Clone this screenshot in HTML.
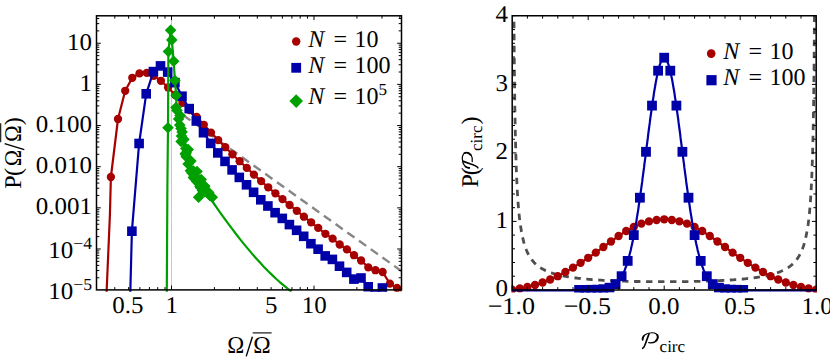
<!DOCTYPE html>
<html><head><meta charset="utf-8"><title>chart</title>
<style>html,body{margin:0;padding:0;background:#fff;}body{width:830px;height:362px;overflow:hidden;font-family:"Liberation Serif",serif;}svg{display:block;}</style>
</head><body>
<svg width="830" height="362" viewBox="0 0 830 362">
<rect width="830" height="362" fill="#fff"/>
<defs><clipPath id="cl"><rect x="96.5" y="15.8" width="305.0" height="275.99999999999994"/></clipPath><clipPath id="cr"><rect x="511.40000000000003" y="15.0" width="305.6" height="277.4"/></clipPath></defs>
<g clip-path="url(#cl)">
<line x1="171.5" y1="15.8" x2="171.5" y2="289.9" stroke="#c8c8c8" stroke-width="1"/>
<line x1="171.5" y1="106.9" x2="401.5" y2="271.1" stroke="#868686" stroke-width="2.4" stroke-dasharray="8.8 5.6"/>
<polyline points="106.6,292.0 108.4,250.0 109.9,215.0 110.9,177.0 118.0,119.0 125.2,90.8 132.3,77.8 139.5,73.4 146.7,72.9 153.8,75.9 160.9,80.8 168.1,87.5 175.2,95.0 182.4,102.8 189.6,110.0 196.7,117.0 203.8,124.8 211.0,132.6 218.2,140.1 225.3,147.2 232.4,154.3 239.6,161.2 246.8,167.9 253.9,174.6 261.1,181.1 268.2,187.3 275.4,193.3 282.5,199.1 289.6,205.0 296.8,210.8 303.9,216.7 311.1,222.3 318.2,227.9 325.4,233.8 332.6,238.6 339.7,244.5 346.9,249.4 354.0,255.2 361.1,260.5 368.3,267.4 375.4,270.2 382.6,272.0 389.9,283.6 397.0,288.0 402.0,291.0" fill="none" stroke="#a60000" stroke-width="2.2" stroke-linejoin="round"/>
<circle cx="110.9" cy="177.0" r="4.15" fill="#a60000"/>
<circle cx="118.0" cy="119.0" r="4.15" fill="#a60000"/>
<circle cx="125.2" cy="90.8" r="4.15" fill="#a60000"/>
<circle cx="132.3" cy="77.8" r="4.15" fill="#a60000"/>
<circle cx="139.5" cy="73.4" r="4.15" fill="#a60000"/>
<circle cx="146.7" cy="72.9" r="4.15" fill="#a60000"/>
<circle cx="153.8" cy="75.9" r="4.15" fill="#a60000"/>
<circle cx="160.9" cy="80.8" r="4.15" fill="#a60000"/>
<circle cx="168.1" cy="87.5" r="4.15" fill="#a60000"/>
<circle cx="175.2" cy="95.0" r="4.15" fill="#a60000"/>
<circle cx="182.4" cy="102.8" r="4.15" fill="#a60000"/>
<circle cx="189.6" cy="110.0" r="4.15" fill="#a60000"/>
<circle cx="196.7" cy="117.0" r="4.15" fill="#a60000"/>
<circle cx="203.8" cy="124.8" r="4.15" fill="#a60000"/>
<circle cx="211.0" cy="132.6" r="4.15" fill="#a60000"/>
<circle cx="218.2" cy="140.1" r="4.15" fill="#a60000"/>
<circle cx="225.3" cy="147.2" r="4.15" fill="#a60000"/>
<circle cx="232.4" cy="154.3" r="4.15" fill="#a60000"/>
<circle cx="239.6" cy="161.2" r="4.15" fill="#a60000"/>
<circle cx="246.8" cy="167.9" r="4.15" fill="#a60000"/>
<circle cx="253.9" cy="174.6" r="4.15" fill="#a60000"/>
<circle cx="261.1" cy="181.1" r="4.15" fill="#a60000"/>
<circle cx="268.2" cy="187.3" r="4.15" fill="#a60000"/>
<circle cx="275.4" cy="193.3" r="4.15" fill="#a60000"/>
<circle cx="282.5" cy="199.1" r="4.15" fill="#a60000"/>
<circle cx="289.6" cy="205.0" r="4.15" fill="#a60000"/>
<circle cx="296.8" cy="210.8" r="4.15" fill="#a60000"/>
<circle cx="303.9" cy="216.7" r="4.15" fill="#a60000"/>
<circle cx="311.1" cy="222.3" r="4.15" fill="#a60000"/>
<circle cx="318.2" cy="227.9" r="4.15" fill="#a60000"/>
<circle cx="325.4" cy="233.8" r="4.15" fill="#a60000"/>
<circle cx="332.6" cy="238.6" r="4.15" fill="#a60000"/>
<circle cx="339.7" cy="244.5" r="4.15" fill="#a60000"/>
<circle cx="346.9" cy="249.4" r="4.15" fill="#a60000"/>
<circle cx="354.0" cy="255.2" r="4.15" fill="#a60000"/>
<circle cx="361.1" cy="260.5" r="4.15" fill="#a60000"/>
<circle cx="368.3" cy="267.4" r="4.15" fill="#a60000"/>
<circle cx="375.4" cy="270.2" r="4.15" fill="#a60000"/>
<circle cx="382.6" cy="272.0" r="4.15" fill="#a60000"/>
<circle cx="389.9" cy="283.6" r="4.15" fill="#a60000"/>
<circle cx="397.0" cy="288.0" r="4.15" fill="#a60000"/>
<polyline points="130.3,292.0 131.9,231.2 139.1,143.5 146.2,93.8 153.4,71.6 160.5,65.9 167.7,72.1 174.9,82.6 182.0,96.2 189.2,108.6 196.3,121.0 203.5,132.7 210.7,143.4 217.8,152.9 225.0,161.4 232.1,169.9 239.3,177.4 246.5,184.8 253.6,192.3 260.8,199.8 267.9,206.0 275.1,212.7 282.3,218.4 289.4,224.6 296.6,230.3 303.7,236.3 310.9,243.7 318.1,249.2 325.2,255.9 332.4,259.4 339.5,266.2 346.7,272.4 353.9,279.1 361.0,278.0 368.2,286.8 371.5,291.0 378.8,291.0 382.4,288.0 386.5,291.0" fill="none" stroke="#0000a8" stroke-width="2.2" stroke-linejoin="round"/>
<rect x="127.1" y="226.4" width="9.6" height="9.6" fill="#0000a8"/>
<rect x="134.3" y="138.7" width="9.6" height="9.6" fill="#0000a8"/>
<rect x="141.4" y="89.0" width="9.6" height="9.6" fill="#0000a8"/>
<rect x="148.6" y="66.8" width="9.6" height="9.6" fill="#0000a8"/>
<rect x="155.7" y="61.1" width="9.6" height="9.6" fill="#0000a8"/>
<rect x="162.9" y="67.3" width="9.6" height="9.6" fill="#0000a8"/>
<rect x="170.1" y="77.8" width="9.6" height="9.6" fill="#0000a8"/>
<rect x="177.2" y="91.4" width="9.6" height="9.6" fill="#0000a8"/>
<rect x="184.4" y="103.8" width="9.6" height="9.6" fill="#0000a8"/>
<rect x="191.5" y="116.2" width="9.6" height="9.6" fill="#0000a8"/>
<rect x="198.7" y="127.9" width="9.6" height="9.6" fill="#0000a8"/>
<rect x="205.9" y="138.6" width="9.6" height="9.6" fill="#0000a8"/>
<rect x="213.0" y="148.1" width="9.6" height="9.6" fill="#0000a8"/>
<rect x="220.2" y="156.6" width="9.6" height="9.6" fill="#0000a8"/>
<rect x="227.3" y="165.1" width="9.6" height="9.6" fill="#0000a8"/>
<rect x="234.5" y="172.6" width="9.6" height="9.6" fill="#0000a8"/>
<rect x="241.7" y="180.0" width="9.6" height="9.6" fill="#0000a8"/>
<rect x="248.8" y="187.5" width="9.6" height="9.6" fill="#0000a8"/>
<rect x="256.0" y="195.0" width="9.6" height="9.6" fill="#0000a8"/>
<rect x="263.1" y="201.2" width="9.6" height="9.6" fill="#0000a8"/>
<rect x="270.3" y="207.9" width="9.6" height="9.6" fill="#0000a8"/>
<rect x="277.5" y="213.6" width="9.6" height="9.6" fill="#0000a8"/>
<rect x="284.6" y="219.8" width="9.6" height="9.6" fill="#0000a8"/>
<rect x="291.8" y="225.5" width="9.6" height="9.6" fill="#0000a8"/>
<rect x="298.9" y="231.5" width="9.6" height="9.6" fill="#0000a8"/>
<rect x="306.1" y="238.9" width="9.6" height="9.6" fill="#0000a8"/>
<rect x="313.3" y="244.4" width="9.6" height="9.6" fill="#0000a8"/>
<rect x="320.4" y="251.1" width="9.6" height="9.6" fill="#0000a8"/>
<rect x="327.6" y="254.6" width="9.6" height="9.6" fill="#0000a8"/>
<rect x="334.7" y="261.4" width="9.6" height="9.6" fill="#0000a8"/>
<rect x="341.9" y="267.6" width="9.6" height="9.6" fill="#0000a8"/>
<rect x="349.1" y="274.3" width="9.6" height="9.6" fill="#0000a8"/>
<rect x="356.2" y="273.2" width="9.6" height="9.6" fill="#0000a8"/>
<rect x="363.4" y="282.0" width="9.6" height="9.6" fill="#0000a8"/>
<rect x="377.6" y="283.2" width="9.6" height="9.6" fill="#0000a8"/>
<polyline points="166.8,292.0 167.4,185.0 168.0,127.8 168.4,51.5 170.6,30.2 171.8,39.9 173.7,61.2 174.9,80.5 176.2,95.4 176.6,108.0 179.3,120.0 181.4,132.0 185.6,152.5 192.8,170.5 200.0,182.0 207.4,193.0 212.8,202.0 216.0,206.6 220.0,212.3 224.0,217.9 228.0,223.4 232.0,228.7 236.0,234.0 240.0,239.1 244.0,244.1 248.0,248.9 252.0,253.6 256.0,258.2 260.0,262.6 264.0,266.9 268.0,271.0 272.0,274.9 276.0,278.7 280.0,282.3 284.0,285.7 288.0,288.9 291.5,291.6" fill="none" stroke="#00a000" stroke-width="2.2" stroke-linejoin="round"/>
<path d="M162.2 127.8L168.0 122.0L173.8 127.8L168.0 133.6Z" fill="#00a000"/>
<path d="M162.6 51.5L168.4 45.7L174.2 51.5L168.4 57.3Z" fill="#00a000"/>
<path d="M164.8 30.2L170.6 24.4L176.4 30.2L170.6 36.0Z" fill="#00a000"/>
<path d="M166.0 39.9L171.8 34.1L177.6 39.9L171.8 45.7Z" fill="#00a000"/>
<path d="M167.9 61.2L173.7 55.4L179.5 61.2L173.7 67.0Z" fill="#00a000"/>
<path d="M169.1 80.5L174.9 74.7L180.7 80.5L174.9 86.3Z" fill="#00a000"/>
<path d="M170.4 95.4L176.2 89.6L182.0 95.4L176.2 101.2Z" fill="#00a000"/>
<path d="M170.2 107.5L176.0 101.7L181.8 107.5L176.0 113.3Z" fill="#00a000"/>
<path d="M171.2 110.5L177.0 104.7L182.8 110.5L177.0 116.3Z" fill="#00a000"/>
<path d="M174.3 115.5L180.1 109.7L185.9 115.5L180.1 121.3Z" fill="#00a000"/>
<path d="M172.8 119.0L178.6 113.2L184.4 119.0L178.6 124.8Z" fill="#00a000"/>
<path d="M174.0 125.1L179.8 119.3L185.6 125.1L179.8 130.9Z" fill="#00a000"/>
<path d="M175.2 128.5L181.0 122.7L186.8 128.5L181.0 134.3Z" fill="#00a000"/>
<path d="M176.3 131.9L182.1 126.1L187.9 131.9L182.1 137.7Z" fill="#00a000"/>
<path d="M175.7 136.0L181.5 130.2L187.3 136.0L181.5 141.8Z" fill="#00a000"/>
<path d="M178.1 139.4L183.9 133.6L189.7 139.4L183.9 145.2Z" fill="#00a000"/>
<path d="M175.3 141.5L181.1 135.7L186.9 141.5L181.1 147.3Z" fill="#00a000"/>
<path d="M180.0 148.6L185.8 142.8L191.6 148.6L185.8 154.4Z" fill="#00a000"/>
<path d="M179.5 154.1L185.3 148.3L191.1 154.1L185.3 159.9Z" fill="#00a000"/>
<path d="M180.4 152.8L186.2 147.0L192.0 152.8L186.2 158.6Z" fill="#00a000"/>
<path d="M179.8 154.1L185.6 148.3L191.4 154.1L185.6 159.9Z" fill="#00a000"/>
<path d="M180.5 156.8L186.3 151.0L192.1 156.8L186.3 162.6Z" fill="#00a000"/>
<path d="M185.1 161.1L190.9 155.3L196.7 161.1L190.9 166.9Z" fill="#00a000"/>
<path d="M182.3 164.0L188.1 158.2L193.9 164.0L188.1 169.8Z" fill="#00a000"/>
<path d="M184.6 170.7L190.4 164.9L196.2 170.7L190.4 176.5Z" fill="#00a000"/>
<path d="M187.7 171.1L193.5 165.3L199.3 171.1L193.5 176.9Z" fill="#00a000"/>
<path d="M186.2 173.1L192.0 167.3L197.8 173.1L192.0 178.9Z" fill="#00a000"/>
<path d="M186.3 171.3L192.1 165.5L197.9 171.3L192.1 177.1Z" fill="#00a000"/>
<path d="M188.8 172.7L194.6 166.9L200.4 172.7L194.6 178.5Z" fill="#00a000"/>
<path d="M187.6 177.4L193.4 171.6L199.2 177.4L193.4 183.2Z" fill="#00a000"/>
<path d="M190.9 181.6L196.7 175.8L202.5 181.6L196.7 187.4Z" fill="#00a000"/>
<path d="M193.5 180.4L199.3 174.6L205.1 180.4L199.3 186.2Z" fill="#00a000"/>
<path d="M195.4 179.6L201.2 173.8L207.0 179.6L201.2 185.4Z" fill="#00a000"/>
<path d="M194.6 183.0L200.4 177.2L206.2 183.0L200.4 188.8Z" fill="#00a000"/>
<path d="M194.9 187.8L200.7 182.0L206.5 187.8L200.7 193.6Z" fill="#00a000"/>
<path d="M198.9 186.6L204.7 180.8L210.5 186.6L204.7 192.4Z" fill="#00a000"/>
<path d="M198.6 185.9L204.4 180.1L210.2 185.9L204.4 191.7Z" fill="#00a000"/>
<path d="M198.9 191.7L204.7 185.9L210.5 191.7L204.7 197.5Z" fill="#00a000"/>
<path d="M199.6 191.2L205.4 185.4L211.2 191.2L205.4 197.0Z" fill="#00a000"/>
<path d="M203.0 192.6L208.8 186.8L214.6 192.6L208.8 198.4Z" fill="#00a000"/>
<path d="M204.2 195.7L210.0 189.9L215.8 195.7L210.0 201.5Z" fill="#00a000"/>
<path d="M206.5 197.3L212.3 191.5L218.1 197.3L212.3 203.1Z" fill="#00a000"/>
<path d="M192.8 197.3L198.6 191.5L204.4 197.3L198.6 203.1Z" fill="#00a000"/>
<path d="M196.6 190.5L202.4 184.7L208.2 190.5L202.4 196.3Z" fill="#00a000"/>
<path d="M194.2 186.5L200.0 180.7L205.8 186.5L200.0 192.3Z" fill="#00a000"/>
<path d="M188.7 178.5L194.5 172.7L200.3 178.5L194.5 184.3Z" fill="#00a000"/>
<path d="M191.2 171.5L197.0 165.7L202.8 171.5L197.0 177.3Z" fill="#00a000"/>
<path d="M182.4 149.5L188.2 143.7L194.0 149.5L188.2 155.3Z" fill="#00a000"/>
</g>
<rect x="96.5" y="15.8" width="305.0" height="274.09999999999997" fill="none" stroke="#000" stroke-width="1.5"/>
<path d="M114.79 289.9v-2.8M114.79 15.8v2.8M128.60 289.9v-2.8M128.60 15.8v2.8M139.89 289.9v-2.8M139.89 15.8v2.8M149.43 289.9v-2.8M149.43 15.8v2.8M157.69 289.9v-2.8M157.69 15.8v2.8M164.98 289.9v-2.8M164.98 15.8v2.8M171.50 289.9v-4.3M171.50 15.8v4.3M214.40 289.9v-2.8M214.40 15.8v2.8M239.49 289.9v-2.8M239.49 15.8v2.8M257.29 289.9v-2.8M257.29 15.8v2.8M271.10 289.9v-2.8M271.10 15.8v2.8M282.39 289.9v-2.8M282.39 15.8v2.8M291.93 289.9v-2.8M291.93 15.8v2.8M300.19 289.9v-2.8M300.19 15.8v2.8M307.48 289.9v-2.8M307.48 15.8v2.8M314.00 289.9v-4.3M314.00 15.8v4.3M356.90 289.9v-2.8M356.90 15.8v2.8M381.99 289.9v-2.8M381.99 15.8v2.8M399.79 289.9v-2.8M399.79 15.8v2.8M96.5 277.76h2.8M401.5 277.76h-2.8M96.5 270.52h2.8M401.5 270.52h-2.8M96.5 265.38h2.8M401.5 265.38h-2.8M96.5 261.39h2.8M401.5 261.39h-2.8M96.5 258.13h2.8M401.5 258.13h-2.8M96.5 255.37h2.8M401.5 255.37h-2.8M96.5 252.99h2.8M401.5 252.99h-2.8M96.5 250.88h2.8M401.5 250.88h-2.8M96.5 249.00h4.3M401.5 249.00h-4.3M96.5 236.61h2.8M401.5 236.61h-2.8M96.5 229.37h2.8M401.5 229.37h-2.8M96.5 224.23h2.8M401.5 224.23h-2.8M96.5 220.24h2.8M401.5 220.24h-2.8M96.5 216.98h2.8M401.5 216.98h-2.8M96.5 214.22h2.8M401.5 214.22h-2.8M96.5 211.84h2.8M401.5 211.84h-2.8M96.5 209.73h2.8M401.5 209.73h-2.8M96.5 207.85h4.3M401.5 207.85h-4.3M96.5 195.46h2.8M401.5 195.46h-2.8M96.5 188.22h2.8M401.5 188.22h-2.8M96.5 183.08h2.8M401.5 183.08h-2.8M96.5 179.09h2.8M401.5 179.09h-2.8M96.5 175.83h2.8M401.5 175.83h-2.8M96.5 173.07h2.8M401.5 173.07h-2.8M96.5 170.69h2.8M401.5 170.69h-2.8M96.5 168.58h2.8M401.5 168.58h-2.8M96.5 166.70h4.3M401.5 166.70h-4.3M96.5 154.31h2.8M401.5 154.31h-2.8M96.5 147.07h2.8M401.5 147.07h-2.8M96.5 141.93h2.8M401.5 141.93h-2.8M96.5 137.94h2.8M401.5 137.94h-2.8M96.5 134.68h2.8M401.5 134.68h-2.8M96.5 131.92h2.8M401.5 131.92h-2.8M96.5 129.54h2.8M401.5 129.54h-2.8M96.5 127.43h2.8M401.5 127.43h-2.8M96.5 125.55h4.3M401.5 125.55h-4.3M96.5 113.16h2.8M401.5 113.16h-2.8M96.5 105.92h2.8M401.5 105.92h-2.8M96.5 100.78h2.8M401.5 100.78h-2.8M96.5 96.79h2.8M401.5 96.79h-2.8M96.5 93.53h2.8M401.5 93.53h-2.8M96.5 90.77h2.8M401.5 90.77h-2.8M96.5 88.39h2.8M401.5 88.39h-2.8M96.5 86.28h2.8M401.5 86.28h-2.8M96.5 84.40h4.3M401.5 84.40h-4.3M96.5 72.01h2.8M401.5 72.01h-2.8M96.5 64.77h2.8M401.5 64.77h-2.8M96.5 59.63h2.8M401.5 59.63h-2.8M96.5 55.64h2.8M401.5 55.64h-2.8M96.5 52.38h2.8M401.5 52.38h-2.8M96.5 49.62h2.8M401.5 49.62h-2.8M96.5 47.24h2.8M401.5 47.24h-2.8M96.5 45.13h2.8M401.5 45.13h-2.8M96.5 43.25h4.3M401.5 43.25h-4.3M96.5 30.86h2.8M401.5 30.86h-2.8M96.5 23.62h2.8M401.5 23.62h-2.8M96.5 18.48h2.8M401.5 18.48h-2.8" stroke="#000" stroke-width="1" fill="none"/>
<g clip-path="url(#cr)">
<polyline points="512.2,-121.1 512.8,-121.1 513.3,-121.1 513.8,-1.6 514.3,64.3 514.8,105.2 515.3,133.0 515.8,153.3 516.3,168.7 516.8,180.9 517.3,190.7 517.8,198.8 518.3,205.6 518.8,211.5 519.3,216.5 519.8,220.9 520.3,224.7 520.9,228.1 521.4,231.2 521.9,233.9 522.4,236.4 522.9,238.7 523.4,240.7 523.9,242.6 524.4,244.4 524.9,246.0 525.4,247.4 525.9,248.8 526.4,250.1 526.9,251.3 527.4,252.4 527.9,253.5 528.5,254.5 529.0,255.4 529.5,256.3 530.0,257.1 530.5,257.9 531.0,258.6 531.5,259.3 532.0,260.0 532.5,260.6 533.0,261.3 533.5,261.8 534.0,262.4 534.5,262.9 535.0,263.4 535.5,263.9 536.1,264.4 536.6,264.8 537.1,265.3 537.6,265.7 538.1,266.1 538.6,266.4 539.1,266.8 539.6,267.2 540.1,267.5 540.6,267.8 541.1,268.2 541.6,268.5 542.1,268.8 542.6,269.1 543.1,269.3 543.6,269.6 544.2,269.9 544.7,270.1 545.2,270.4 545.7,270.6 546.2,270.8 546.7,271.1 547.2,271.3 547.7,271.5 548.2,271.7 548.7,271.9 549.2,272.1 549.7,272.3 550.2,272.5 550.7,272.7 551.2,272.8 551.8,273.0 552.3,273.2 552.8,273.3 553.3,273.5 553.8,273.6 554.3,273.8 554.8,273.9 555.3,274.1 555.8,274.2 556.3,274.4 556.8,274.5 557.3,274.6 557.8,274.8 558.3,274.9 558.8,275.0 559.4,275.1 559.9,275.3 560.4,275.4 560.9,275.5 561.4,275.6 561.9,275.7 562.4,275.8 562.9,275.9 563.4,276.0 563.9,276.1 564.4,276.2 564.9,276.3 565.4,276.4 565.9,276.5 566.4,276.6 566.9,276.7 567.5,276.8 568.0,276.8 568.5,276.9 569.0,277.0 569.5,277.1 570.0,277.2 570.5,277.2 571.0,277.3 571.5,277.4 572.0,277.5 572.5,277.5 573.0,277.6 573.5,277.7 574.0,277.8 574.5,277.8 575.1,277.9 575.6,278.0 576.1,278.0 576.6,278.1 577.1,278.1 577.6,278.2 578.1,278.3 578.6,278.3 579.1,278.4 579.6,278.4 580.1,278.5 580.6,278.5 581.1,278.6 581.6,278.7 582.1,278.7 582.7,278.8 583.2,278.8 583.7,278.9 584.2,278.9 584.7,279.0 585.2,279.0 585.7,279.1 586.2,279.1 586.7,279.1 587.2,279.2 587.7,279.2 588.2,279.3 588.7,279.3 589.2,279.4 589.7,279.4 590.2,279.4 590.8,279.5 591.3,279.5 591.8,279.6 592.3,279.6 592.8,279.6 593.3,279.7 593.8,279.7 594.3,279.8 594.8,279.8 595.3,279.8 595.8,279.9 596.3,279.9 596.8,279.9 597.3,280.0 597.8,280.0 598.4,280.0 598.9,280.1 599.4,280.1 599.9,280.1 600.4,280.2 600.9,280.2 601.4,280.2 601.9,280.2 602.4,280.3 602.9,280.3 603.4,280.3 603.9,280.4 604.4,280.4 604.9,280.4 605.4,280.4 606.0,280.5 606.5,280.5 607.0,280.5 607.5,280.5 608.0,280.6 608.5,280.6 609.0,280.6 609.5,280.6 610.0,280.7 610.5,280.7 611.0,280.7 611.5,280.7 612.0,280.8 612.5,280.8 613.0,280.8 613.5,280.8 614.1,280.8 614.6,280.9 615.1,280.9 615.6,280.9 616.1,280.9 616.6,280.9 617.1,281.0 617.6,281.0 618.1,281.0 618.6,281.0 619.1,281.0 619.6,281.0 620.1,281.1 620.6,281.1 621.1,281.1 621.7,281.1 622.2,281.1 622.7,281.1 623.2,281.2 623.7,281.2 624.2,281.2 624.7,281.2 625.2,281.2 625.7,281.2 626.2,281.3 626.7,281.3 627.2,281.3 627.7,281.3 628.2,281.3 628.7,281.3 629.3,281.3 629.8,281.3 630.3,281.4 630.8,281.4 631.3,281.4 631.8,281.4 632.3,281.4 632.8,281.4 633.3,281.4 633.8,281.4 634.3,281.4 634.8,281.5 635.3,281.5 635.8,281.5 636.3,281.5 636.8,281.5 637.4,281.5 637.9,281.5 638.4,281.5 638.9,281.5 639.4,281.5 639.9,281.6 640.4,281.6 640.9,281.6 641.4,281.6 641.9,281.6 642.4,281.6 642.9,281.6 643.4,281.6 643.9,281.6 644.4,281.6 645.0,281.6 645.5,281.6 646.0,281.6 646.5,281.6 647.0,281.7 647.5,281.7 648.0,281.7 648.5,281.7 649.0,281.7 649.5,281.7 650.0,281.7 650.5,281.7 651.0,281.7 651.5,281.7 652.0,281.7 652.6,281.7 653.1,281.7 653.6,281.7 654.1,281.7 654.6,281.7 655.1,281.7 655.6,281.7 656.1,281.7 656.6,281.7 657.1,281.7 657.6,281.7 658.1,281.7 658.6,281.7 659.1,281.7 659.6,281.7 660.1,281.7 660.7,281.7 661.2,281.7 661.7,281.7 662.2,281.7 662.7,281.7 663.2,281.7 663.7,281.7 664.2,281.7 664.7,281.7 665.2,281.7 665.7,281.7 666.2,281.7 666.7,281.7 667.2,281.7 667.7,281.7 668.3,281.7 668.8,281.7 669.3,281.7 669.8,281.7 670.3,281.7 670.8,281.7 671.3,281.7 671.8,281.7 672.3,281.7 672.8,281.7 673.3,281.7 673.8,281.7 674.3,281.7 674.8,281.7 675.3,281.7 675.8,281.7 676.4,281.7 676.9,281.7 677.4,281.7 677.9,281.7 678.4,281.7 678.9,281.7 679.4,281.7 679.9,281.7 680.4,281.7 680.9,281.7 681.4,281.7 681.9,281.6 682.4,281.6 682.9,281.6 683.4,281.6 684.0,281.6 684.5,281.6 685.0,281.6 685.5,281.6 686.0,281.6 686.5,281.6 687.0,281.6 687.5,281.6 688.0,281.6 688.5,281.6 689.0,281.5 689.5,281.5 690.0,281.5 690.5,281.5 691.0,281.5 691.6,281.5 692.1,281.5 692.6,281.5 693.1,281.5 693.6,281.5 694.1,281.4 694.6,281.4 695.1,281.4 695.6,281.4 696.1,281.4 696.6,281.4 697.1,281.4 697.6,281.4 698.1,281.4 698.6,281.3 699.1,281.3 699.7,281.3 700.2,281.3 700.7,281.3 701.2,281.3 701.7,281.3 702.2,281.3 702.7,281.2 703.2,281.2 703.7,281.2 704.2,281.2 704.7,281.2 705.2,281.2 705.7,281.1 706.2,281.1 706.7,281.1 707.3,281.1 707.8,281.1 708.3,281.1 708.8,281.0 709.3,281.0 709.8,281.0 710.3,281.0 710.8,281.0 711.3,281.0 711.8,280.9 712.3,280.9 712.8,280.9 713.3,280.9 713.8,280.9 714.3,280.8 714.9,280.8 715.4,280.8 715.9,280.8 716.4,280.8 716.9,280.7 717.4,280.7 717.9,280.7 718.4,280.7 718.9,280.6 719.4,280.6 719.9,280.6 720.4,280.6 720.9,280.5 721.4,280.5 721.9,280.5 722.4,280.5 723.0,280.4 723.5,280.4 724.0,280.4 724.5,280.4 725.0,280.3 725.5,280.3 726.0,280.3 726.5,280.2 727.0,280.2 727.5,280.2 728.0,280.2 728.5,280.1 729.0,280.1 729.5,280.1 730.0,280.0 730.6,280.0 731.1,280.0 731.6,279.9 732.1,279.9 732.6,279.9 733.1,279.8 733.6,279.8 734.1,279.8 734.6,279.7 735.1,279.7 735.6,279.6 736.1,279.6 736.6,279.6 737.1,279.5 737.6,279.5 738.2,279.4 738.7,279.4 739.2,279.4 739.7,279.3 740.2,279.3 740.7,279.2 741.2,279.2 741.7,279.1 742.2,279.1 742.7,279.1 743.2,279.0 743.7,279.0 744.2,278.9 744.7,278.9 745.2,278.8 745.7,278.8 746.3,278.7 746.8,278.7 747.3,278.6 747.8,278.5 748.3,278.5 748.8,278.4 749.3,278.4 749.8,278.3 750.3,278.3 750.8,278.2 751.3,278.1 751.8,278.1 752.3,278.0 752.8,278.0 753.3,277.9 753.9,277.8 754.4,277.8 754.9,277.7 755.4,277.6 755.9,277.5 756.4,277.5 756.9,277.4 757.4,277.3 757.9,277.2 758.4,277.2 758.9,277.1 759.4,277.0 759.9,276.9 760.4,276.8 760.9,276.8 761.5,276.7 762.0,276.6 762.5,276.5 763.0,276.4 763.5,276.3 764.0,276.2 764.5,276.1 765.0,276.0 765.5,275.9 766.0,275.8 766.5,275.7 767.0,275.6 767.5,275.5 768.0,275.4 768.5,275.3 769.0,275.1 769.6,275.0 770.1,274.9 770.6,274.8 771.1,274.6 771.6,274.5 772.1,274.4 772.6,274.2 773.1,274.1 773.6,273.9 774.1,273.8 774.6,273.6 775.1,273.5 775.6,273.3 776.1,273.2 776.6,273.0 777.2,272.8 777.7,272.7 778.2,272.5 778.7,272.3 779.2,272.1 779.7,271.9 780.2,271.7 780.7,271.5 781.2,271.3 781.7,271.1 782.2,270.8 782.7,270.6 783.2,270.4 783.7,270.1 784.2,269.9 784.8,269.6 785.3,269.3 785.8,269.1 786.3,268.8 786.8,268.5 787.3,268.2 787.8,267.8 788.3,267.5 788.8,267.2 789.3,266.8 789.8,266.4 790.3,266.1 790.8,265.7 791.3,265.3 791.8,264.8 792.3,264.4 792.9,263.9 793.4,263.4 793.9,262.9 794.4,262.4 794.9,261.8 795.4,261.3 795.9,260.6 796.4,260.0 796.9,259.3 797.4,258.6 797.9,257.9 798.4,257.1 798.9,256.3 799.4,255.4 799.9,254.5 800.5,253.5 801.0,252.4 801.5,251.3 802.0,250.1 802.5,248.8 803.0,247.4 803.5,246.0 804.0,244.4 804.5,242.6 805.0,240.7 805.5,238.7 806.0,236.4 806.5,233.9 807.0,231.2 807.5,228.1 808.1,224.7 808.6,220.9 809.1,216.5 809.6,211.5 810.1,205.6 810.6,198.8 811.1,190.7 811.6,180.9 812.1,168.7 812.6,153.3 813.1,133.0 813.6,105.2 814.1,64.3 814.6,-1.6 815.1,-121.1 815.6,-121.1 816.2,-121.1" fill="none" stroke="#4f4f4f" stroke-width="2.8" stroke-dasharray="6.4 5.6"/>
<polyline points="512.2,289.6 519.8,288.5 527.4,287.0 535.0,285.0 542.6,282.5 550.2,279.5 557.8,276.2 565.4,272.0 573.0,267.6 580.6,262.8 588.2,257.8 595.8,252.6 603.4,247.0 611.0,241.5 618.6,236.0 626.2,231.0 633.8,226.9 641.4,223.6 649.0,221.4 656.6,220.0 664.2,219.3 671.8,220.0 679.4,221.4 687.0,223.6 694.6,226.9 702.2,231.0 709.8,236.0 717.4,241.5 725.0,247.0 732.6,252.6 740.2,257.8 747.8,262.8 755.4,267.6 763.0,272.0 770.6,276.2 778.2,279.5 785.8,282.5 793.4,285.0 801.0,287.0 808.6,288.5 816.2,289.6" fill="none" stroke="#a60000" stroke-width="2.2"/>
<circle cx="512.2" cy="289.6" r="4.15" fill="#a60000"/>
<circle cx="519.8" cy="288.5" r="4.15" fill="#a60000"/>
<circle cx="527.4" cy="287.0" r="4.15" fill="#a60000"/>
<circle cx="535.0" cy="285.0" r="4.15" fill="#a60000"/>
<circle cx="542.6" cy="282.5" r="4.15" fill="#a60000"/>
<circle cx="550.2" cy="279.5" r="4.15" fill="#a60000"/>
<circle cx="557.8" cy="276.2" r="4.15" fill="#a60000"/>
<circle cx="565.4" cy="272.0" r="4.15" fill="#a60000"/>
<circle cx="573.0" cy="267.6" r="4.15" fill="#a60000"/>
<circle cx="580.6" cy="262.8" r="4.15" fill="#a60000"/>
<circle cx="588.2" cy="257.8" r="4.15" fill="#a60000"/>
<circle cx="595.8" cy="252.6" r="4.15" fill="#a60000"/>
<circle cx="603.4" cy="247.0" r="4.15" fill="#a60000"/>
<circle cx="611.0" cy="241.5" r="4.15" fill="#a60000"/>
<circle cx="618.6" cy="236.0" r="4.15" fill="#a60000"/>
<circle cx="626.2" cy="231.0" r="4.15" fill="#a60000"/>
<circle cx="633.8" cy="226.9" r="4.15" fill="#a60000"/>
<circle cx="641.4" cy="223.6" r="4.15" fill="#a60000"/>
<circle cx="649.0" cy="221.4" r="4.15" fill="#a60000"/>
<circle cx="656.6" cy="220.0" r="4.15" fill="#a60000"/>
<circle cx="664.2" cy="219.3" r="4.15" fill="#a60000"/>
<circle cx="671.8" cy="220.0" r="4.15" fill="#a60000"/>
<circle cx="679.4" cy="221.4" r="4.15" fill="#a60000"/>
<circle cx="687.0" cy="223.6" r="4.15" fill="#a60000"/>
<circle cx="694.6" cy="226.9" r="4.15" fill="#a60000"/>
<circle cx="702.2" cy="231.0" r="4.15" fill="#a60000"/>
<circle cx="709.8" cy="236.0" r="4.15" fill="#a60000"/>
<circle cx="717.4" cy="241.5" r="4.15" fill="#a60000"/>
<circle cx="725.0" cy="247.0" r="4.15" fill="#a60000"/>
<circle cx="732.6" cy="252.6" r="4.15" fill="#a60000"/>
<circle cx="740.2" cy="257.8" r="4.15" fill="#a60000"/>
<circle cx="747.8" cy="262.8" r="4.15" fill="#a60000"/>
<circle cx="755.4" cy="267.6" r="4.15" fill="#a60000"/>
<circle cx="763.0" cy="272.0" r="4.15" fill="#a60000"/>
<circle cx="770.6" cy="276.2" r="4.15" fill="#a60000"/>
<circle cx="778.2" cy="279.5" r="4.15" fill="#a60000"/>
<circle cx="785.8" cy="282.5" r="4.15" fill="#a60000"/>
<circle cx="793.4" cy="285.0" r="4.15" fill="#a60000"/>
<circle cx="801.0" cy="287.0" r="4.15" fill="#a60000"/>
<circle cx="808.6" cy="288.5" r="4.15" fill="#a60000"/>
<circle cx="816.2" cy="289.6" r="4.15" fill="#a60000"/>
<polyline points="512.2,290.4 512.6,290.4 513.0,290.4 513.3,290.4 513.7,290.4 514.1,290.4 514.5,290.4 514.9,290.4 515.2,290.4 515.6,290.4 516.0,290.4 516.4,290.4 516.8,290.4 517.1,290.4 517.5,290.4 517.9,290.4 518.3,290.4 518.7,290.4 519.0,290.4 519.4,290.4 519.8,290.4 520.2,290.4 520.6,290.4 520.9,290.4 521.3,290.4 521.7,290.4 522.1,290.4 522.5,290.4 522.8,290.4 523.2,290.4 523.6,290.4 524.0,290.4 524.4,290.4 524.7,290.4 525.1,290.4 525.5,290.4 525.9,290.4 526.3,290.4 526.6,290.4 527.0,290.4 527.4,290.4 527.8,290.4 528.2,290.4 528.5,290.4 528.9,290.4 529.3,290.4 529.7,290.4 530.1,290.4 530.4,290.4 530.8,290.4 531.2,290.4 531.6,290.4 532.0,290.4 532.3,290.4 532.7,290.4 533.1,290.4 533.5,290.4 533.9,290.4 534.2,290.4 534.6,290.4 535.0,290.4 535.4,290.4 535.8,290.4 536.1,290.4 536.5,290.4 536.9,290.4 537.3,290.4 537.7,290.4 538.0,290.4 538.4,290.4 538.8,290.4 539.2,290.4 539.6,290.4 539.9,290.4 540.3,290.4 540.7,290.4 541.1,290.4 541.5,290.4 541.8,290.4 542.2,290.4 542.6,290.4 543.0,290.4 543.4,290.4 543.7,290.4 544.1,290.4 544.5,290.4 544.9,290.4 545.3,290.4 545.6,290.4 546.0,290.4 546.4,290.4 546.8,290.4 547.2,290.4 547.5,290.4 547.9,290.4 548.3,290.4 548.7,290.4 549.1,290.4 549.4,290.4 549.8,290.4 550.2,290.4 550.6,290.4 551.0,290.4 551.3,290.4 551.7,290.4 552.1,290.4 552.5,290.4 552.9,290.4 553.2,290.4 553.6,290.4 554.0,290.4 554.4,290.4 554.8,290.4 555.1,290.4 555.5,290.4 555.9,290.4 556.3,290.4 556.7,290.4 557.0,290.4 557.4,290.4 557.8,290.4 558.2,290.4 558.6,290.4 558.9,290.4 559.3,290.4 559.7,290.4 560.1,290.4 560.5,290.4 560.8,290.4 561.2,290.4 561.6,290.4 562.0,290.4 562.4,290.4 562.7,290.4 563.1,290.4 563.5,290.4 563.9,290.4 564.3,290.4 564.6,290.4 565.0,290.4 565.4,290.4 565.8,290.4 566.2,290.4 566.5,290.4 566.9,290.4 567.3,290.4 567.7,290.4 568.1,290.4 568.4,290.4 568.8,290.4 569.2,290.4 569.6,290.4 570.0,290.4 570.3,290.4 570.7,290.4 571.1,290.4 571.5,290.4 571.9,290.4 572.2,290.4 572.6,290.4 573.0,290.4 573.4,290.4 573.8,290.4 574.1,290.4 574.5,290.4 574.9,290.4 575.3,290.4 575.7,290.4 576.0,290.4 576.4,290.4 576.8,290.4 577.2,290.4 577.6,290.4 577.9,290.4 578.3,290.4 578.7,290.4 579.1,290.4 579.5,290.4 579.8,290.4 580.2,290.4 580.6,290.4 581.0,290.4 581.4,290.4 581.7,290.4 582.1,290.4 582.5,290.4 582.9,290.4 583.3,290.4 583.6,290.4 584.0,290.4 584.4,290.4 584.8,290.4 585.2,290.4 585.5,290.4 585.9,290.4 586.3,290.4 586.7,290.4 587.1,290.4 587.4,290.4 587.8,290.4 588.2,290.4 588.6,290.4 589.0,290.4 589.3,290.4 589.7,290.4 590.1,290.4 590.5,290.4 590.9,290.3 591.2,290.3 591.6,290.3 592.0,290.3 592.4,290.3 592.8,290.3 593.1,290.3 593.5,290.3 593.9,290.3 594.3,290.3 594.7,290.3 595.0,290.3 595.4,290.3 595.8,290.2 596.2,290.2 596.6,290.2 596.9,290.2 597.3,290.2 597.7,290.2 598.1,290.1 598.5,290.1 598.8,290.1 599.2,290.1 599.6,290.1 600.0,290.0 600.4,290.0 600.7,290.0 601.1,289.9 601.5,289.9 601.9,289.9 602.3,289.8 602.6,289.8 603.0,289.7 603.4,289.7 603.8,289.6 604.2,289.6 604.5,289.5 604.9,289.4 605.3,289.4 605.7,289.3 606.1,289.2 606.4,289.1 606.8,289.0 607.2,288.9 607.6,288.8 608.0,288.7 608.3,288.6 608.7,288.5 609.1,288.4 609.5,288.2 609.9,288.1 610.2,287.9 610.6,287.8 611.0,287.6 611.4,287.4 611.8,287.2 612.1,287.0 612.5,286.8 612.9,286.6 613.3,286.4 613.7,286.1 614.0,285.8 614.4,285.6 614.8,285.3 615.2,285.0 615.6,284.6 615.9,284.3 616.3,283.9 616.7,283.6 617.1,283.2 617.5,282.7 617.8,282.3 618.2,281.9 618.6,281.4 619.0,280.9 619.4,280.4 619.7,279.8 620.1,279.2 620.5,278.6 620.9,278.0 621.3,277.4 621.6,276.7 622.0,276.0 622.4,275.2 622.8,274.5 623.2,273.7 623.5,272.9 623.9,272.0 624.3,271.1 624.7,270.2 625.1,269.2 625.4,268.2 625.8,267.1 626.2,266.1 626.6,264.9 627.0,263.8 627.3,262.6 627.7,261.4 628.1,260.1 628.5,258.8 628.9,257.4 629.2,256.0 629.6,254.5 630.0,253.0 630.4,251.5 630.8,249.9 631.1,248.3 631.5,246.6 631.9,244.9 632.3,243.1 632.7,241.3 633.0,239.4 633.4,237.5 633.8,235.6 634.2,233.6 634.6,231.5 634.9,229.4 635.3,227.3 635.7,225.1 636.1,222.9 636.5,220.6 636.8,218.3 637.2,215.9 637.6,213.5 638.0,211.1 638.4,208.6 638.7,206.0 639.1,203.5 639.5,200.9 639.9,198.2 640.3,195.5 640.6,192.8 641.0,190.1 641.4,187.3 641.8,184.5 642.2,181.7 642.5,178.8 642.9,175.9 643.3,173.0 643.7,170.1 644.1,167.2 644.4,164.2 644.8,161.3 645.2,158.3 645.6,155.3 646.0,152.3 646.3,149.3 646.7,146.3 647.1,143.3 647.5,140.4 647.9,137.4 648.2,134.4 648.6,131.5 649.0,128.5 649.4,125.6 649.8,122.7 650.1,119.9 650.5,117.0 650.9,114.3 651.3,111.5 651.7,108.8 652.0,106.1 652.4,103.4 652.8,100.9 653.2,98.3 653.6,95.8 653.9,93.4 654.3,91.0 654.7,88.7 655.1,86.5 655.5,84.3 655.8,82.2 656.2,80.2 656.6,78.2 657.0,76.3 657.4,74.6 657.7,72.8 658.1,71.2 658.5,69.7 658.9,68.2 659.3,66.9 659.6,65.6 660.0,64.4 660.4,63.4 660.8,62.4 661.2,61.5 661.5,60.7 661.9,60.1 662.3,59.5 662.7,59.0 663.1,58.7 663.4,58.4 663.8,58.2 664.2,58.2 664.6,58.2 665.0,58.4 665.3,58.7 665.7,59.0 666.1,59.5 666.5,60.1 666.9,60.7 667.2,61.5 667.6,62.4 668.0,63.4 668.4,64.4 668.8,65.6 669.1,66.9 669.5,68.2 669.9,69.7 670.3,71.2 670.7,72.8 671.0,74.6 671.4,76.3 671.8,78.2 672.2,80.2 672.6,82.2 672.9,84.3 673.3,86.5 673.7,88.7 674.1,91.0 674.5,93.4 674.8,95.8 675.2,98.3 675.6,100.9 676.0,103.4 676.4,106.1 676.7,108.8 677.1,111.5 677.5,114.3 677.9,117.0 678.3,119.9 678.6,122.7 679.0,125.6 679.4,128.5 679.8,131.5 680.2,134.4 680.5,137.4 680.9,140.4 681.3,143.3 681.7,146.3 682.1,149.3 682.4,152.3 682.8,155.3 683.2,158.3 683.6,161.3 684.0,164.2 684.3,167.2 684.7,170.1 685.1,173.0 685.5,175.9 685.9,178.8 686.2,181.7 686.6,184.5 687.0,187.3 687.4,190.1 687.8,192.8 688.1,195.5 688.5,198.2 688.9,200.9 689.3,203.5 689.7,206.0 690.0,208.6 690.4,211.1 690.8,213.5 691.2,215.9 691.6,218.3 691.9,220.6 692.3,222.9 692.7,225.1 693.1,227.3 693.5,229.4 693.8,231.5 694.2,233.6 694.6,235.6 695.0,237.5 695.4,239.4 695.7,241.3 696.1,243.1 696.5,244.9 696.9,246.6 697.3,248.3 697.6,249.9 698.0,251.5 698.4,253.0 698.8,254.5 699.2,256.0 699.5,257.4 699.9,258.8 700.3,260.1 700.7,261.4 701.1,262.6 701.4,263.8 701.8,264.9 702.2,266.1 702.6,267.1 703.0,268.2 703.3,269.2 703.7,270.2 704.1,271.1 704.5,272.0 704.9,272.9 705.2,273.7 705.6,274.5 706.0,275.2 706.4,276.0 706.8,276.7 707.1,277.4 707.5,278.0 707.9,278.6 708.3,279.2 708.7,279.8 709.0,280.4 709.4,280.9 709.8,281.4 710.2,281.9 710.6,282.3 710.9,282.7 711.3,283.2 711.7,283.6 712.1,283.9 712.5,284.3 712.8,284.6 713.2,285.0 713.6,285.3 714.0,285.6 714.4,285.8 714.7,286.1 715.1,286.4 715.5,286.6 715.9,286.8 716.3,287.0 716.6,287.2 717.0,287.4 717.4,287.6 717.8,287.8 718.2,287.9 718.5,288.1 718.9,288.2 719.3,288.4 719.7,288.5 720.1,288.6 720.4,288.7 720.8,288.8 721.2,288.9 721.6,289.0 722.0,289.1 722.3,289.2 722.7,289.3 723.1,289.4 723.5,289.4 723.9,289.5 724.2,289.6 724.6,289.6 725.0,289.7 725.4,289.7 725.8,289.8 726.1,289.8 726.5,289.9 726.9,289.9 727.3,289.9 727.7,290.0 728.0,290.0 728.4,290.0 728.8,290.1 729.2,290.1 729.6,290.1 729.9,290.1 730.3,290.1 730.7,290.2 731.1,290.2 731.5,290.2 731.8,290.2 732.2,290.2 732.6,290.2 733.0,290.3 733.4,290.3 733.7,290.3 734.1,290.3 734.5,290.3 734.9,290.3 735.3,290.3 735.6,290.3 736.0,290.3 736.4,290.3 736.8,290.3 737.2,290.3 737.5,290.3 737.9,290.4 738.3,290.4 738.7,290.4 739.1,290.4 739.4,290.4 739.8,290.4 740.2,290.4 740.6,290.4 741.0,290.4 741.3,290.4 741.7,290.4 742.1,290.4 742.5,290.4 742.9,290.4 743.2,290.4 743.6,290.4 744.0,290.4 744.4,290.4 744.8,290.4 745.1,290.4 745.5,290.4 745.9,290.4 746.3,290.4 746.7,290.4 747.0,290.4 747.4,290.4 747.8,290.4 748.2,290.4 748.6,290.4 748.9,290.4 749.3,290.4 749.7,290.4 750.1,290.4 750.5,290.4 750.8,290.4 751.2,290.4 751.6,290.4 752.0,290.4 752.4,290.4 752.7,290.4 753.1,290.4 753.5,290.4 753.9,290.4 754.3,290.4 754.6,290.4 755.0,290.4 755.4,290.4 755.8,290.4 756.2,290.4 756.5,290.4 756.9,290.4 757.3,290.4 757.7,290.4 758.1,290.4 758.4,290.4 758.8,290.4 759.2,290.4 759.6,290.4 760.0,290.4 760.3,290.4 760.7,290.4 761.1,290.4 761.5,290.4 761.9,290.4 762.2,290.4 762.6,290.4 763.0,290.4 763.4,290.4 763.8,290.4 764.1,290.4 764.5,290.4 764.9,290.4 765.3,290.4 765.7,290.4 766.0,290.4 766.4,290.4 766.8,290.4 767.2,290.4 767.6,290.4 767.9,290.4 768.3,290.4 768.7,290.4 769.1,290.4 769.5,290.4 769.8,290.4 770.2,290.4 770.6,290.4 771.0,290.4 771.4,290.4 771.7,290.4 772.1,290.4 772.5,290.4 772.9,290.4 773.3,290.4 773.6,290.4 774.0,290.4 774.4,290.4 774.8,290.4 775.2,290.4 775.5,290.4 775.9,290.4 776.3,290.4 776.7,290.4 777.1,290.4 777.4,290.4 777.8,290.4 778.2,290.4 778.6,290.4 779.0,290.4 779.3,290.4 779.7,290.4 780.1,290.4 780.5,290.4 780.9,290.4 781.2,290.4 781.6,290.4 782.0,290.4 782.4,290.4 782.8,290.4 783.1,290.4 783.5,290.4 783.9,290.4 784.3,290.4 784.7,290.4 785.0,290.4 785.4,290.4 785.8,290.4 786.2,290.4 786.6,290.4 786.9,290.4 787.3,290.4 787.7,290.4 788.1,290.4 788.5,290.4 788.8,290.4 789.2,290.4 789.6,290.4 790.0,290.4 790.4,290.4 790.7,290.4 791.1,290.4 791.5,290.4 791.9,290.4 792.3,290.4 792.6,290.4 793.0,290.4 793.4,290.4 793.8,290.4 794.2,290.4 794.5,290.4 794.9,290.4 795.3,290.4 795.7,290.4 796.1,290.4 796.4,290.4 796.8,290.4 797.2,290.4 797.6,290.4 798.0,290.4 798.3,290.4 798.7,290.4 799.1,290.4 799.5,290.4 799.9,290.4 800.2,290.4 800.6,290.4 801.0,290.4 801.4,290.4 801.8,290.4 802.1,290.4 802.5,290.4 802.9,290.4 803.3,290.4 803.7,290.4 804.0,290.4 804.4,290.4 804.8,290.4 805.2,290.4 805.6,290.4 805.9,290.4 806.3,290.4 806.7,290.4 807.1,290.4 807.5,290.4 807.8,290.4 808.2,290.4 808.6,290.4 809.0,290.4 809.4,290.4 809.7,290.4 810.1,290.4 810.5,290.4 810.9,290.4 811.3,290.4 811.6,290.4 812.0,290.4 812.4,290.4 812.8,290.4 813.2,290.4 813.5,290.4 813.9,290.4 814.3,290.4 814.7,290.4 815.1,290.4 815.4,290.4 815.8,290.4 816.2,290.4" fill="none" stroke="#0000a8" stroke-width="2.2" stroke-linejoin="round"/>
<rect x="574.2" y="285.0" width="9.8" height="9.8" fill="#0000a8"/>
<rect x="580.3" y="285.0" width="9.8" height="9.8" fill="#0000a8"/>
<rect x="586.3" y="284.9" width="9.8" height="9.8" fill="#0000a8"/>
<rect x="592.4" y="284.8" width="9.8" height="9.8" fill="#0000a8"/>
<rect x="598.5" y="284.3" width="9.8" height="9.8" fill="#0000a8"/>
<rect x="604.6" y="282.8" width="9.8" height="9.8" fill="#0000a8"/>
<rect x="610.7" y="279.2" width="9.8" height="9.8" fill="#0000a8"/>
<rect x="616.7" y="271.3" width="9.8" height="9.8" fill="#0000a8"/>
<rect x="622.8" y="256.0" width="9.8" height="9.8" fill="#0000a8"/>
<rect x="628.9" y="230.2" width="9.8" height="9.8" fill="#0000a8"/>
<rect x="635.0" y="192.8" width="9.8" height="9.8" fill="#0000a8"/>
<rect x="641.1" y="146.9" width="9.8" height="9.8" fill="#0000a8"/>
<rect x="647.1" y="100.7" width="9.8" height="9.8" fill="#0000a8"/>
<rect x="653.2" y="65.8" width="9.8" height="9.8" fill="#0000a8"/>
<rect x="659.3" y="52.8" width="9.8" height="9.8" fill="#0000a8"/>
<rect x="665.4" y="65.8" width="9.8" height="9.8" fill="#0000a8"/>
<rect x="671.5" y="100.7" width="9.8" height="9.8" fill="#0000a8"/>
<rect x="677.5" y="146.9" width="9.8" height="9.8" fill="#0000a8"/>
<rect x="683.6" y="192.8" width="9.8" height="9.8" fill="#0000a8"/>
<rect x="689.7" y="230.2" width="9.8" height="9.8" fill="#0000a8"/>
<rect x="695.8" y="256.0" width="9.8" height="9.8" fill="#0000a8"/>
<rect x="701.9" y="271.3" width="9.8" height="9.8" fill="#0000a8"/>
<rect x="707.9" y="279.2" width="9.8" height="9.8" fill="#0000a8"/>
<rect x="714.0" y="282.8" width="9.8" height="9.8" fill="#0000a8"/>
<rect x="720.1" y="284.3" width="9.8" height="9.8" fill="#0000a8"/>
<rect x="726.2" y="284.8" width="9.8" height="9.8" fill="#0000a8"/>
<rect x="732.3" y="284.9" width="9.8" height="9.8" fill="#0000a8"/>
<rect x="738.3" y="285.0" width="9.8" height="9.8" fill="#0000a8"/>
</g>
<path d="M512.2 15.8H816.2M512.2 289.9H816.2M512.2 15.05V290.65M816.2 15.05V290.65" stroke="#000" stroke-width="1.5" fill="none"/>
<path d="M527.40 289.9v-2.8M527.40 15.8v2.8M542.60 289.9v-2.8M542.60 15.8v2.8M557.80 289.9v-2.8M557.80 15.8v2.8M573.00 289.9v-2.8M573.00 15.8v2.8M588.20 289.9v-4.3M588.20 15.8v4.3M603.40 289.9v-2.8M603.40 15.8v2.8M618.60 289.9v-2.8M618.60 15.8v2.8M633.80 289.9v-2.8M633.80 15.8v2.8M649.00 289.9v-2.8M649.00 15.8v2.8M664.20 289.9v-4.3M664.20 15.8v4.3M679.40 289.9v-2.8M679.40 15.8v2.8M694.60 289.9v-2.8M694.60 15.8v2.8M709.80 289.9v-2.8M709.80 15.8v2.8M725.00 289.9v-2.8M725.00 15.8v2.8M740.20 289.9v-4.3M740.20 15.8v4.3M755.40 289.9v-2.8M755.40 15.8v2.8M770.60 289.9v-2.8M770.60 15.8v2.8M785.80 289.9v-2.8M785.80 15.8v2.8M801.00 289.9v-2.8M801.00 15.8v2.8M512.2 276.20h2.8M816.2 276.20h-2.8M512.2 262.50h2.8M816.2 262.50h-2.8M512.2 248.80h2.8M816.2 248.80h-2.8M512.2 235.10h2.8M816.2 235.10h-2.8M512.2 221.40h4.3M816.2 221.40h-4.3M512.2 207.70h2.8M816.2 207.70h-2.8M512.2 194.00h2.8M816.2 194.00h-2.8M512.2 180.30h2.8M816.2 180.30h-2.8M512.2 166.60h2.8M816.2 166.60h-2.8M512.2 152.90h4.3M816.2 152.90h-4.3M512.2 139.20h2.8M816.2 139.20h-2.8M512.2 125.50h2.8M816.2 125.50h-2.8M512.2 111.80h2.8M816.2 111.80h-2.8M512.2 98.10h2.8M816.2 98.10h-2.8M512.2 84.40h4.3M816.2 84.40h-4.3M512.2 70.70h2.8M816.2 70.70h-2.8M512.2 57.00h2.8M816.2 57.00h-2.8M512.2 43.30h2.8M816.2 43.30h-2.8M512.2 29.60h2.8M816.2 29.60h-2.8" stroke="#000" stroke-width="1" fill="none"/>
<g font-family="'Liberation Serif', serif" font-size="24" fill="#000" text-rendering="geometricPrecision">
<text transform="translate(92.0,49.8) scale(1.04,1)" text-anchor="end">10</text>
<text transform="translate(92.0,90.9) scale(1.04,1)" text-anchor="end">1</text>
<text transform="translate(92.0,132.1) scale(1.04,1)" text-anchor="end">0.100</text>
<text transform="translate(92.0,173.2) scale(1.04,1)" text-anchor="end">0.010</text>
<text transform="translate(92.0,214.3) scale(1.04,1)" text-anchor="end">0.001</text>
<text transform="translate(92.0,258.1) scale(1.04,1)" text-anchor="end">10<tspan font-size="17" dy="-9.3">−4</tspan></text>
<text transform="translate(92.0,299.2) scale(1.04,1)" text-anchor="end">10<tspan font-size="17" dy="-9.3">−5</tspan></text>
<text transform="translate(127.8,313.4) scale(1.04,1)" text-anchor="middle">0.5</text>
<text transform="translate(171.7,313.4) scale(1.04,1)" text-anchor="middle">1</text>
<text transform="translate(271.3,313.4) scale(1.04,1)" text-anchor="middle">5</text>
<text transform="translate(314.2,313.4) scale(1.04,1)" text-anchor="middle">10</text>
<text transform="translate(508.0,296.1) scale(1.04,1)" text-anchor="end">0</text>
<text transform="translate(508.0,227.6) scale(1.04,1)" text-anchor="end">1</text>
<text transform="translate(508.0,159.1) scale(1.04,1)" text-anchor="end">2</text>
<text transform="translate(508.0,90.6) scale(1.04,1)" text-anchor="end">3</text>
<text transform="translate(508.0,22.1) scale(1.04,1)" text-anchor="end">4</text>
<text transform="translate(511.3,313.5) scale(1.085,1)" text-anchor="middle">−1.0</text>
<text transform="translate(587.3,313.5) scale(1.085,1)" text-anchor="middle">−0.5</text>
<text transform="translate(663.9,313.5) scale(1.04,1)" text-anchor="middle">0.0</text>
<text transform="translate(739.9,313.5) scale(1.04,1)" text-anchor="middle">0.5</text>
<text transform="translate(817.2,313.5) scale(1.04,1)" text-anchor="middle">1.0</text>
<text y="46.8"><tspan x="308.3" font-style="italic">N</tspan><tspan x="333.4">=</tspan><tspan x="354.6">10</tspan></text>
<text y="72.5"><tspan x="308.3" font-style="italic">N</tspan><tspan x="333.4">=</tspan><tspan x="354.6">100</tspan></text>
<text y="104.3"><tspan x="308.3" font-style="italic">N</tspan><tspan x="333.4">=</tspan><tspan x="354.6">10</tspan><tspan font-size="17" dy="-9.5">5</tspan></text>
<text y="58.6"><tspan x="723.2" font-style="italic">N</tspan><tspan x="748.4">=</tspan><tspan x="769.6">10</tspan></text>
<text y="85.2"><tspan x="723.2" font-style="italic">N</tspan><tspan x="748.4">=</tspan><tspan x="769.6">100</tspan></text>
<circle cx="296.2" cy="41.5" r="4.2" fill="#a60000"/><rect x="291.3" y="62.9" width="9.8" height="9.8" fill="#0000a8"/><path d="M289.4 101.1L296.2 94.3L303 101.1L296.2 107.9Z" fill="#00a000"/>
<circle cx="711.2" cy="53.6" r="4.3" fill="#a60000"/><rect x="706.4" y="75.1" width="10.2" height="10.2" fill="#0000a8"/>
<text x="227.3" y="352.7" font-size="24" textLength="17" lengthAdjust="spacingAndGlyphs">Ω</text>
<path d="M246.2 356.4L252.4 336.7" stroke="#000" stroke-width="1.4"/>
<text x="253.2" y="352.7" font-size="24" textLength="17.4" lengthAdjust="spacingAndGlyphs">Ω</text>
<path d="M252.7 332.9H271.6" stroke="#000" stroke-width="1.1"/>
<g transform="translate(20.5,188.7) rotate(-90)" font-size="24"><text x="0" y="0">P</text><text x="12.6" y="0">(</text><text x="22.5" y="0" textLength="16.4" lengthAdjust="spacingAndGlyphs">Ω</text><path d="M39 3.8L45 -15.9" stroke="#000" stroke-width="1.4"/><text x="46.8" y="0" textLength="16.8" lengthAdjust="spacingAndGlyphs">Ω</text><text x="63.4" y="0">)</text><path d="M46.5 -19.8H65.5" stroke="#000" stroke-width="1.1"/></g>
<g transform="translate(641.8,332.2)" fill="none" stroke="#000" stroke-linecap="round"><path d="M0.9 16.1C2.3 15.7 3.1 13.4 4.8 8.3L7.2 1.7" stroke-width="1.65"/><path d="M0.8 7.5C0.5 4.2 3.6 0.65 10 0.55C14 0.5 16.1 2.4 16.1 5.2C16.1 8.6 12.6 11.3 6.9 10.5" stroke-width="1.2"/><path d="M15.5 2.8C16.4 4.6 15.7 7 13.8 8.9" stroke-width="1.9"/><path d="M0.8 7.6C0.7 6 1.2 4.8 2 3.8" stroke-width="1.7"/></g>
<text x="659.6" y="351.8" font-size="17">circ</text>
<g transform="translate(477.9,187.6) rotate(-90)" font-size="24"><text x="0" y="0">P</text><text x="12.4" y="0">(</text><g transform="translate(19.0,-16.2)" fill="none" stroke="#000" stroke-linecap="round"><path d="M0.9 16.1C2.3 15.7 3.1 13.4 4.8 8.3L7.2 1.7" stroke-width="1.65"/><path d="M0.8 7.5C0.5 4.2 3.6 0.65 10 0.55C14 0.5 16.1 2.4 16.1 5.2C16.1 8.6 12.6 11.3 6.9 10.5" stroke-width="1.2"/><path d="M15.5 2.8C16.4 4.6 15.7 7 13.8 8.9" stroke-width="1.9"/><path d="M0.8 7.6C0.7 6 1.2 4.8 2 3.8" stroke-width="1.7"/></g><text x="36.6" y="4.4" font-size="17">circ</text><text x="63.2" y="0">)</text></g>
</g>
</svg>
</body></html>
